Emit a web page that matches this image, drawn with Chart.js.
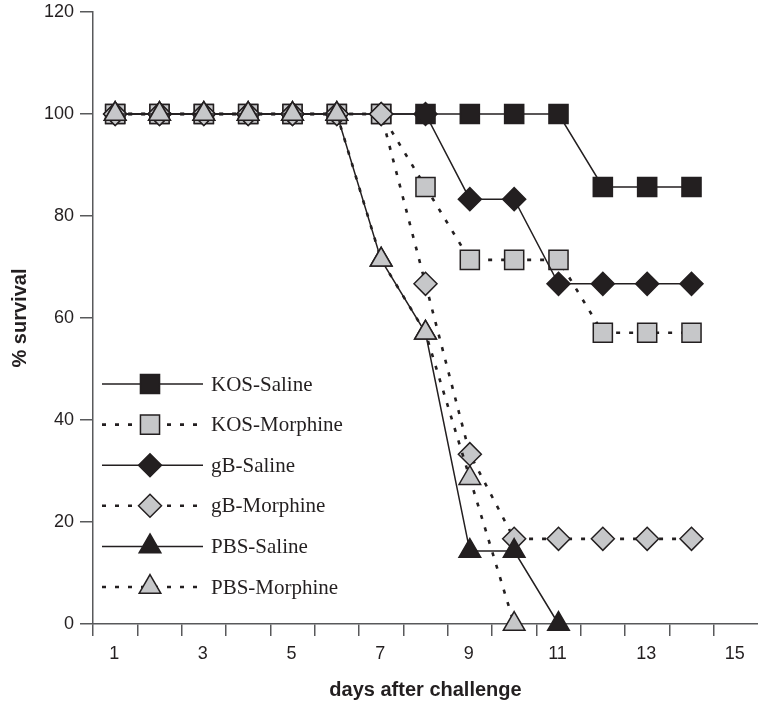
<!DOCTYPE html>
<html>
<head>
<meta charset="utf-8">
<script src="https://cdn.jsdelivr.net/npm/chart.js@4.4.0/dist/chart.umd.min.js"></script>
<style>
html,body{margin:0;padding:0;background:#fff;overflow:hidden}
#wrap{position:relative;width:758px;height:703px}
</style>
</head>
<body>
<div id="wrap"><canvas id="c" width="758" height="703"></canvas></div>
<script>
// ---- data ----
const days = ['1','2','3','4','5','6','7','8','9','10','11','12','13','14','15'];
const kosSaline   = [100,100,100,100,100,100,100,100,100,100,100,85.7,85.7,85.7];
const kosMorphine = [100,100,100,100,100,100,100,85.7,71.4,71.4,71.4,57.1,57.1,57.1];
const gbSaline    = [100,100,100,100,100,100,100,100,83.3,83.3,66.7,66.7,66.7,66.7];
const gbMorphine  = [100,100,100,100,100,100,100,66.7,33.3,16.7,16.7,16.7,16.7,16.7];
const pbsSaline   = [100,100,100,100,100,100,71.4,57.1,14.3,14.3,0,null,null,null];
const pbsMorphine = [100,100,100,100,100,100,71.4,57.1,28.6,0,null,null,null,null];
const seriesNames = ['KOS-Saline','KOS-Morphine','gB-Saline','gB-Morphine','PBS-Saline','PBS-Morphine'];
const yMin = 0, yMax = 120, yStep = 20;

// ---- styles ----
const ink = '#231f20', gray = '#c6c7c9', axisCol = '#58595b';
const sans = "'Liberation Sans', Arial, Helvetica, sans-serif";
const serif = "'Liberation Serif', 'Times New Roman', serif";

function makeSet(label, data, style, fill, dashed, r, order) {
  return {
    label, data, order,
    borderColor: ink,
    borderWidth: dashed ? 2.6 : 1.5,
    borderDash: dashed ? [4, 9] : [],
    borderCapStyle: 'butt',
    pointStyle: style,
    pointRadius: r, pointHoverRadius: r,
    pointBackgroundColor: fill,
    pointBorderColor: ink,
    pointBorderWidth: 1.5,
    tension: 0, fill: false, clip: false, spanGaps: false
  };
}

const datasets = [
  makeSet(seriesNames[0], kosSaline,   'rect',     ink,  false, 13.5, 6),
  makeSet(seriesNames[1], kosMorphine, 'rect',     gray, true,  13.5, 5),
  makeSet(seriesNames[2], gbSaline,    'rectRot',  ink,  false, 11.5, 4),
  makeSet(seriesNames[3], gbMorphine,  'rectRot',  gray, true,  11.5, 3),
  makeSet(seriesNames[4], pbsSaline,   'triangle', ink,  false, 12.5, 2),
  makeSet(seriesNames[5], pbsMorphine, 'triangle', gray, true,  12.5, 1)
];

function drawMarker(ctx, style, r, x, y) {
  ctx.beginPath();
  if (style === 'rect') {
    const s = Math.SQRT1_2 * r;
    ctx.rect(x - s, y - s, 2 * s, 2 * s);
  } else if (style === 'rectRot') {
    ctx.moveTo(x - r, y); ctx.lineTo(x, y - r); ctx.lineTo(x + r, y); ctx.lineTo(x, y + r);
    ctx.closePath();
  } else {
    ctx.moveTo(x, y - r);
    ctx.lineTo(x + Math.sin(2*Math.PI/3) * r, y - Math.cos(2*Math.PI/3) * r);
    ctx.lineTo(x + Math.sin(4*Math.PI/3) * r, y - Math.cos(4*Math.PI/3) * r);
    ctx.closePath();
  }
  ctx.fill(); ctx.stroke();
}

const innerLegend = {
  id: 'innerLegend',
  afterDraw(chart) {
    const ctx = chart.ctx;
    const a = chart.chartArea;
    const x0 = a.left + 9, x1 = a.left + 110, xm = a.left + 57, tx = a.left + 118;
    const yStart = 384, dy = 40.6;
    chart.data.datasets.forEach((d, i) => {
      const y = yStart + i * dy;
      ctx.save();
      ctx.strokeStyle = d.borderColor;
      ctx.lineWidth = d.borderWidth;
      ctx.setLineDash(d.borderDash);
      ctx.lineCap = 'butt';
      ctx.beginPath(); ctx.moveTo(x0, y); ctx.lineTo(x1, y); ctx.stroke();
      ctx.setLineDash([]);
      ctx.lineWidth = d.pointBorderWidth;
      ctx.strokeStyle = d.pointBorderColor;
      ctx.fillStyle = d.pointBackgroundColor;
      drawMarker(ctx, d.pointStyle, d.pointRadius, xm, y);
      ctx.fillStyle = ink;
      ctx.font = '21px ' + serif;
      ctx.textBaseline = 'middle';
      ctx.textAlign = 'left';
      ctx.fillText(d.label, tx, y + 1);
      ctx.restore();
    });
  }
};

new Chart(document.getElementById('c'), {
  type: 'line',
  data: { labels: days, datasets },
  plugins: [innerLegend],
  options: {
    responsive: false,
    animation: false,
    devicePixelRatio: 1,
    layout: { autoPadding: false, padding: { top: 12, right: 0, left: 0, bottom: 0 } },
    plugins: { legend: { display: false }, tooltip: { enabled: false } },
    scales: {
      x: {
        type: 'category',
        offset: true,
        grid: { display: true, drawOnChartArea: false, drawTicks: true, tickLength: 12, offset: true,
                color: c => (c.type === 'tick' ? axisCol : 'rgba(0,0,0,0)'), lineWidth: 1.5 },
        border: { display: true, color: axisCol, width: 1.5 },
        ticks: {
          autoSkip: false, maxRotation: 0, minRotation: 0, padding: 7, labelOffset: -1,
          color: ink, font: { family: sans, size: 18 },
          callback: (v, i) => (i % 2 === 0 ? days[i] : '')
        },
        title: { display: true, text: 'days after challenge', color: ink,
                 font: { family: sans, size: 20, weight: 'bold' }, padding: { top: 0, bottom: 1 } },
        afterFit: s => { s.height = 79; s.paddingLeft = 0; s.paddingRight = 0; }
      },
      y: {
        min: yMin, max: yMax,
        grid: { display: true, drawOnChartArea: false, drawTicks: true, tickLength: 13, color: axisCol, lineWidth: 1.5 },
        border: { display: true, color: axisCol, width: 1.5 },
        ticks: { stepSize: yStep, padding: 6, color: ink, font: { family: sans, size: 18 } },
        title: { display: true, text: '% survival', color: ink,
                 font: { family: sans, size: 20, weight: 'bold' }, padding: { top: 8, bottom: 0 } },
        afterFit: s => { s.width = 93; s.paddingTop = 0; s.paddingBottom = 0; }
      }
    }
  }
});
</script>
</body>
</html>
